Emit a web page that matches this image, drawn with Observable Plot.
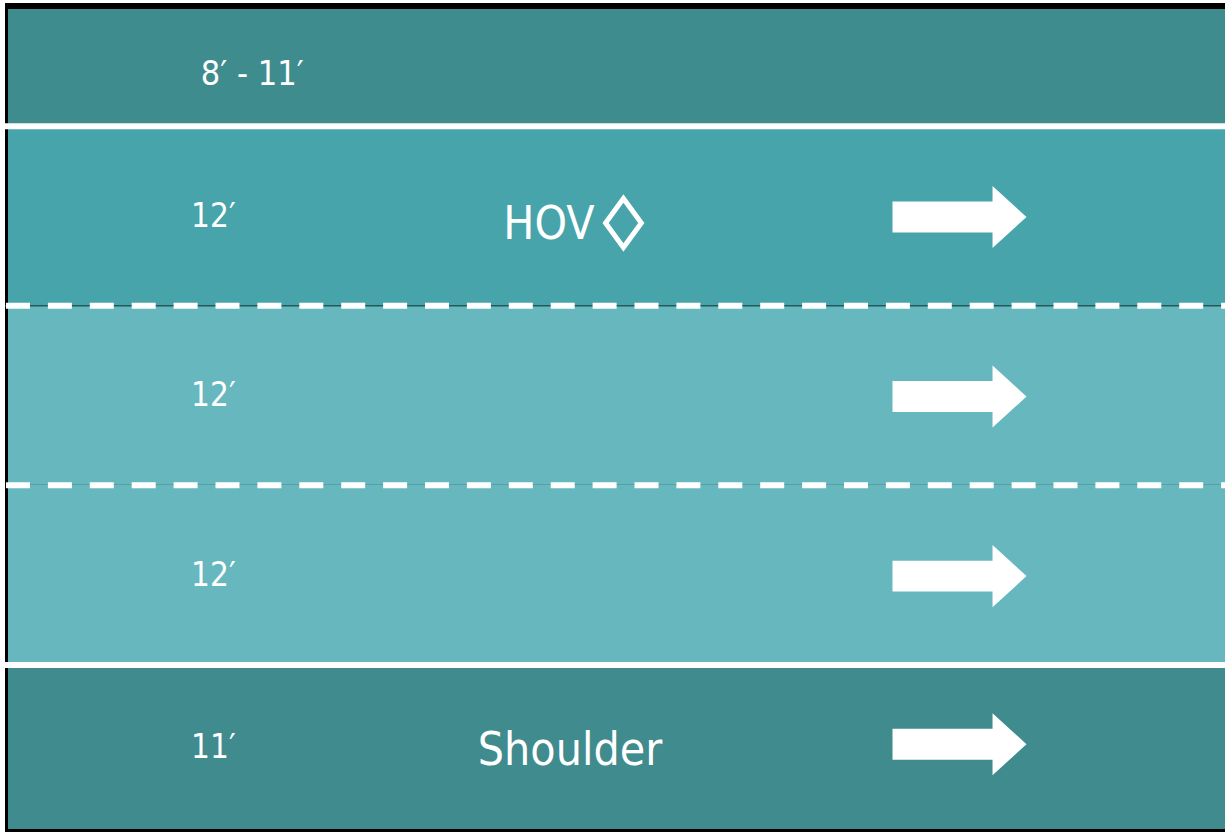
<!DOCTYPE html>
<html>
<head>
<meta charset="utf-8">
<script src="https://cdn.jsdelivr.net/npm/d3@7"></script>
<script src="https://cdn.jsdelivr.net/npm/@observablehq/plot@0.6"></script>
<style>
  html, body { margin: 0; padding: 0; background: #ffffff; }
  #chart { width: 1225px; height: 832px; overflow: hidden; }
</style>
</head>
<body>
<div id="chart"></div>
<script>
// ---- Data ----
const laneIds     = ["buffer", "hov", "general1", "general2", "shoulder"];
const laneKinds   = ["buffer", "hov", "general", "general", "shoulder"];
const laneWidthsFt = [7.8, 12, 12, 12, 11];           // lane widths in feet (top lane partially shown)
const laneWidthLabels = ["8′ - 11′", "12′", "12′", "12′", "11′"];
const laneTags    = ["", "HOV", "", "", "Shoulder"];
const laneHasArrow = [false, true, true, true, true];
const stripeTypes = ["solid", "dashed", "dashed", "solid"]; // boundaries between consecutive lanes
const roadLengthFt = 81.3;                               // visible stretch of roadway

// ---- Build tables ----
let acc = 0;
const lanes = laneIds.map((id, i) => {
  const y1 = acc; acc += laneWidthsFt[i];
  return { id, kind: laneKinds[i], y1, y2: acc, yc: (y1 + acc) / 2,
           label: laneWidthLabels[i], tag: laneTags[i], arrow: laneHasArrow[i] };
});
const totalFt = acc;
const stripes = stripeTypes.map((type, i) => ({ type, y: lanes[i].y2, index: i }));

// custom symbols (shape only, scaled by r)
const arrowSymbol = {
  draw(ctx, size) {
    const s = Math.sqrt(size / Math.PI);
    const b = 0.231 * s, h = 0.463 * s, n = 0.493 * s;
    ctx.moveTo(-s, -b); ctx.lineTo(n, -b); ctx.lineTo(n, -h); ctx.lineTo(s, 0);
    ctx.lineTo(n, h); ctx.lineTo(n, b); ctx.lineTo(-s, b); ctx.closePath();
  }
};
const diamondSymbol = {
  draw(ctx, size) {
    const s = Math.sqrt(size / Math.PI), w = 0.73 * s;
    ctx.moveTo(0, -s); ctx.lineTo(w, 0); ctx.lineTo(0, s); ctx.lineTo(-w, 0); ctx.closePath();
  }
};

const condensed = "'DejaVu Sans Condensed', 'DejaVu Sans', sans-serif";
const hovLane = lanes.filter(d => d.tag === "HOV");
const arrowLanes = lanes.filter(d => d.arrow);

const chart = Plot.plot({
  width: 1220,
  height: 829,
  marginTop: 6, marginLeft: 3, marginRight: 0, marginBottom: 3,
  style: { background: "#000000", display: "block", margin: "3px 0 0 5px", maxWidth: "none" },
  x: { domain: [0, roadLengthFt], axis: null },
  y: { domain: [0, totalFt], reverse: true, axis: null },
  color: { domain: ["buffer", "hov", "general", "shoulder"],
           range: ["#3f8c8f", "#47a4aa", "#66b8be", "#3f8b8e"] },
  marks: [
    Plot.rect(lanes, { x1: 0, x2: roadLengthFt, y1: "y1", y2: "y2", fill: "kind" }),
    // thin dark edge beneath the first dashed stripe
    Plot.ruleY(stripes.filter(d => d.index === 1), { y: "y", stroke: "#24585b", strokeWidth: 1.5, insetLeft: -3 }),
    Plot.ruleY(stripes.filter(d => d.type === "solid"), { y: "y", stroke: "white", strokeWidth: 6, insetLeft: -3 }),
    Plot.ruleY(stripes.filter(d => d.type === "dashed"), { y: "y", stroke: "white", strokeWidth: 6, insetLeft: -3,
      strokeDasharray: "24,17.9", strokeDashoffset: -1 }),
    // lane width labels
    Plot.text(lanes.slice(0, 1), { x: 12.85, y: "yc", text: "label", fill: "white", textAnchor: "start",
      fontSize: 34, fontFamily: condensed, dy: 6 }),
    Plot.text(lanes.slice(1), { x: 12.2, y: "yc", text: "label", fill: "white", textAnchor: "start",
      fontSize: 33, fontFamily: condensed, dy: 0 }),
    // lane tags
    Plot.text(hovLane, { x: 36.1, y: "yc", text: "tag", fill: "white", fontSize: 46, fontFamily: condensed, dy: 8.5 }),
    Plot.dot(hovLane, { x: 41.08, y: "yc", r: 24.5, symbol: diamondSymbol, fill: "none", stroke: "white",
      strokeWidth: 5, strokeLinejoin: "miter", dy: 7 }),
    Plot.text(lanes.filter(d => d.tag === "Shoulder"), { x: 37.51, y: "yc", text: "tag", fill: "white",
      fontSize: 46, fontFamily: condensed, dy: 3 }),
    // travel direction arrows
    Plot.dot(arrowLanes.filter(d => d.kind !== "shoulder"), { x: 63.53, y: "yc", r: 67, symbol: arrowSymbol,
      fill: "white", stroke: "none", dy: 1 }),
    Plot.dot(arrowLanes.filter(d => d.kind === "shoulder"), { x: 63.53, y: "yc", r: 67, symbol: arrowSymbol,
      fill: "white", stroke: "none", dy: -3 })
  ]
});
document.getElementById("chart").appendChild(chart);
</script>
</body>
</html>
